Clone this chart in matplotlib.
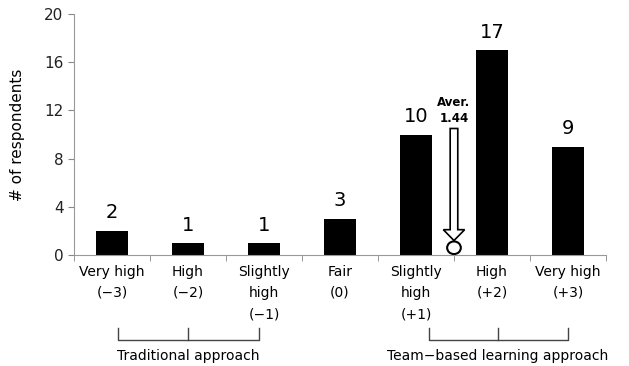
import numpy as np
import matplotlib.pyplot as plt
import matplotlib.transforms as mtransforms
from matplotlib.patches import Ellipse, FancyArrow

# Respuestas por categoria
categorias = ["Very high\n(\u22123)", "High\n(\u22122)", "Slightly\nhigh\n(\u22121)", "Fair\n(0)",
              "Slightly\nhigh\n(+1)", "High\n(+2)", "Very high\n(+3)"]
respuestas = [2, 1, 1, 3, 10, 17, 9]
promedio = 1.44
grupos = ["Traditional approach", "Team\u2212based learning approach"]

plt.rcParams['font.family'] = ['DejaVu Sans']

fig = plt.figure(figsize=[6.29, 3.66], dpi=100)
ax = fig.add_axes([0.1176, 0.3033, 0.8458, 0.6584])

x = np.arange(len(respuestas))
ax.bar(x, respuestas, width=0.41, color='black')
for xi, v in zip(x, respuestas):
    ax.text(xi, v + 0.7, str(v), ha='center', va='bottom', fontsize=14)

ax.set_xlim(-0.5, 6.5)
ax.set_ylim(0, 20)
ax.set_yticks(range(0, 21, 4))
ax.set_xticks(x)
ax.set_xticklabels(categorias, fontsize=10, linespacing=1.65)
ax.tick_params(axis='x', length=0, pad=7)
ax.set_xticks(np.arange(-0.5, 7, 1), minor=True)
ax.tick_params(axis='x', which='minor', length=4, color='#888888')
ax.tick_params(axis='y', length=4, color='#888888', labelsize=11, labelcolor='#222222')
for s in ['top', 'right']:
    ax.spines[s].set_visible(False)
for s in ['left', 'bottom']:
    ax.spines[s].set_color('#999999')
ax.set_ylabel("# of respondents", fontsize=11, labelpad=14)

# Flecha del promedio
xp = 4 + promedio - 1 + 0.06
ax.add_patch(FancyArrow(xp, 10.5, 0, -9.3, width=0.1, head_width=0.28,
                        head_length=0.9, length_includes_head=True,
                        facecolor='white', edgecolor='black', lw=1.2))
ax.add_patch(Ellipse((xp, 0.6), 0.18, 1.05, facecolor='white', edgecolor='black',
                     lw=1.5, clip_on=False))
ax.text(xp, 10.8, "Aver.\n1.44", ha='center', va='bottom', fontsize=8.5,
        fontweight='bold', linespacing=1.3)

# Corchetes de los grupos
trans = mtransforms.blended_transform_factory(ax.transData, fig.transFigure)
y0, y1 = 1 - 328 / 366, 1 - 340 / 366
for (a, m, b), nombre in zip([(0.08, 1.0, 1.93), (4.17, 5.08, 6.0)], grupos):
    ax.plot([a, a, b, b], [y0, y1, y1, y0], color='#444444', lw=1,
            transform=trans, clip_on=False)
    ax.plot([m, m], [y0, y1], color='#444444', lw=1, transform=trans, clip_on=False)
    ax.text(m, 1 - 356 / 366, nombre, ha='center', va='center', fontsize=10,
            transform=trans)

plt.savefig('out.png', dpi=100)
